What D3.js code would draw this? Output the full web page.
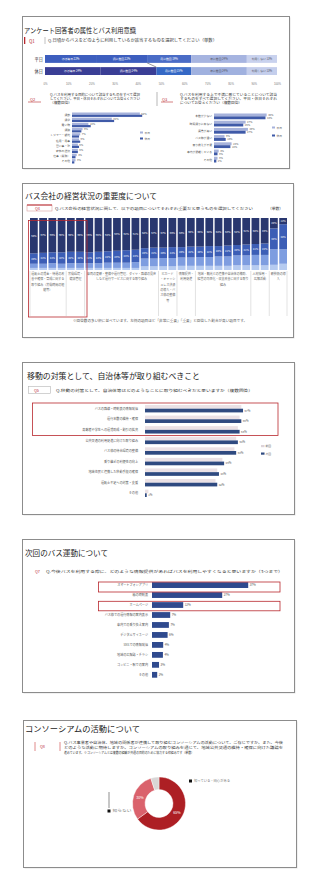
<!DOCTYPE html>
<html><head><meta charset="utf-8">
<script src="https://cdn.jsdelivr.net/npm/d3@7"></script>
<style>html,body{margin:0;padding:0;background:#fff;}svg{display:block;font-family:"Noto Sans CJK JP","Noto Sans",sans-serif;}</style>
</head><body><svg id="c" width="320" height="891"></svg>
<script>
// ---------- DATA ----------
const p1Rows = ["平日", "休日"];
const p1Cats = ["ほぼ毎日", "週に数回", "月に数回", "年に数回", "利用しない"];
const p1Weekday = [22, 22, 19, 24, 13];
const p1Holiday = [24, 24, 15, 24, 13];
const p1Ticks = [0, 10, 20, 30, 40, 50, 60, 70, 80, 90, 100];

const p1LeftCats = ["通勤", "通学", "買い物", "通院", "レジャー・観光", "私用・用事", "習い事・塾", "家族の送迎", "仕事（業務）", "その他"];
const p1LeftA = [58, 34, 14, 9, 7, 6, 5, 5, 4, 3];
const p1LeftB = [60, 36, 16, 8, 6, 7, 6, 5, 3, 2];

const p1RightCats = ["本数が少ない", "時間通りに来ない", "運賃が高い", "バス停が遠い", "乗り換えが不便", "車内が混雑している", "その他"];
const p1RightA = [45, 27, 29, 9, 15, 4, 3];
const p1RightB = [44, 25, 27, 10, 14, 3, 2];

const p2Cols = ["運転士の賃金", "運転士の確保", "運転士の育成", "労働環境", "健康管理", "安全教育", "車両の更新", "車両の整備", "運行管理", "ダイヤの見直し", "路線の再編", "運賃の改定", "ICカード導入", "キャッシュレス", "バス停整備", "情報提供", "利用促進", "地域連携", "観光連携", "自治体補助", "経営の効率化", "収支改善", "人材採用", "広報活動", "環境対策", "EVバス導入", "自動運転", "MaaS"];
const p2Keys = ["重要でない", "あまり重要でない", "重要", "非常に重要"];
const p2VeryImportant = [68, 67, 66, 66, 65, 65, 66, 65, 64, 63, 62, 61, 58, 57, 57, 56, 56, 55, 55, 54, 54, 53, 52, 51, 50, 49, 20, 12];
const p2Important = [20, 21, 21, 22, 22, 22, 21, 22, 22, 23, 24, 24, 20, 21, 20, 21, 20, 21, 20, 21, 20, 21, 20, 21, 21, 22, 40, 48];
const p2Less = [8, 8, 9, 8, 9, 9, 9, 9, 10, 10, 10, 11, 15, 15, 16, 16, 16, 16, 17, 17, 18, 18, 19, 19, 20, 20, 30, 28];
const p2Not = [4, 4, 4, 4, 4, 4, 4, 4, 4, 4, 4, 4, 7, 7, 7, 7, 8, 8, 8, 8, 8, 8, 9, 9, 9, 9, 10, 12];
const p2Groups = [
  ["運転士の賃金・待遇の改善や確保・育成に関する取り組み（労働時間の短縮等）", 0, 4],
  ["労働環境・健康管理", 4, 6],
  ["車両の更新・整備や運行管理、ダイヤ・路線の見直しなど運行サービスに関する取り組み", 6, 14],
  ["ICカード・キャッシュレス決済の導入・バス停の整備等", 14, 16],
  ["情報提供・利用促進", 16, 18],
  ["地域・観光との連携や自治体の補助、経営の効率化・収支改善に関する取り組み", 18, 24],
  ["人材採用・広報活動", 24, 26],
  ["新技術の導入", 26, 28]
];

const p3Cats = ["バスの路線・時刻表の情報発信", "運行本数の維持・確保", "高齢者や学生への運賃助成・割引の拡充", "公共交通の利用促進に向けた取り組み", "バス停の待合環境の整備", "乗り継ぎの利便性の向上", "地域住民と連携した移動手段の確保", "運転士不足への対策・支援", "その他"];
const p3Prev = [56, 55, 54, 53, 52, 45, 42, 41, 2];
const p3Curr = [57, 56, 55, 54, 53, 46, 43, 42, 1];
const p3Series = ["前回", "今回"];

const p4Cats = ["スマートフォンアプリ", "紙の時刻表", "ホームページ", "バス停での運行情報の案内表示", "車内での乗り換え案内", "デジタルサイネージ", "SNSでの情報発信", "地域の広報誌・チラシ", "コンビニ・駅での案内", "その他"];
const p4Values = [37, 27, 12, 7, 6.5, 6, 4.3, 4.2, 2.7, 2];

const p5Cats = ["知っている", "知らない", "無回答"];
const p5Values = [65, 30, 5];

// ---------- HELPERS ----------
const svg = d3.select("#c");
function T(x, y, s, o = {}) {
  const t = svg.append("text").attr("x", x).attr("y", y).text(s)
    .attr("font-size", o.size || 4).attr("fill", o.fill || "#333")
    .attr("text-anchor", o.anchor || "start");
  if (o.len) t.attr("textLength", o.len).attr("lengthAdjust", "spacingAndGlyphs");
  if (o.weight) t.attr("font-weight", o.weight);
  return t;
}
function panel(x, y, w, h) {
  svg.append("rect").attr("x", x + 1).attr("y", y + 1).attr("width", w).attr("height", h).attr("fill", "#e4e4e4");
  svg.append("rect").attr("x", x).attr("y", y).attr("width", w).attr("height", h)
    .attr("fill", "#fff").attr("stroke", "#8c8c8c").attr("stroke-width", 1);
}
function line(x1, y1, x2, y2, c, w) {
  svg.append("line").attr("x1", x1).attr("y1", y1).attr("x2", x2).attr("y2", y2).attr("stroke", c).attr("stroke-width", w || 0.6);
}
function box(x, y, w, h, c, sw) {
  svg.append("rect").attr("x", x).attr("y", y).attr("width", w).attr("height", h)
    .attr("fill", "none").attr("stroke", c).attr("stroke-width", sw || 0.8);
}
function groupedBars(cats, series, colors, cfg) {
  const y = d3.scaleBand().domain(cats).range([cfg.y0, cfg.y1]).paddingInner(cfg.pad);
  const x = d3.scaleLinear().domain([0, 100]).range([cfg.x0, cfg.x0 + cfg.ppp * 100]);
  const sub = d3.scaleBand().domain(d3.range(series.length)).range([0, y.bandwidth()]).paddingInner(cfg.subPad || 0);
  cats.forEach((c, i) => {
    series.forEach((vals, s) => {
      svg.append("rect").attr("x", x(0)).attr("y", y(c) + sub(s))
        .attr("width", x(vals[i]) - x(0)).attr("height", sub.bandwidth()).attr("fill", colors[s]);
      if (cfg.values && (cfg.valueSeries === undefined || cfg.valueSeries === s)) {
        T(x(vals[i]) + 1.5, y(c) + sub(s) + sub.bandwidth() / 2 + cfg.vSize * 0.36, Math.round(vals[i]) + "%", { size: cfg.vSize, fill: "#555" });
      }
    });
    T(cfg.labelX, y(c) + y.bandwidth() / 2 + cfg.lSize * 0.36, c, { size: cfg.lSize, anchor: "end", fill: "#555" });
  });
  return { x, y };
}
const RED = "#b8282e";

// ---------- PANEL 1 ----------
panel(22.5, 16.5, 267, 152);
T(24, 33, "アンケート回答者の属性とバス利用意識", { size: 7, len: 112, fill: "#1a1a1a" });
svg.append("rect").attr("x", 24).attr("y", 37).attr("width", 1.3).attr("height", 7).attr("fill", RED);
T(29, 42.5, "Q1", { size: 4.5, fill: RED });
line(45, 37, 45, 44, "#999", 0.6);
T(48, 42.3, "Q.日頃からバスをどのように利用しているか該当するものを選択してください（単数）", { size: 4, len: 169, fill: "#333" });

{
  const x = d3.scaleLinear().domain([0, 100]).range([45, 277]);
  const y = d3.scaleBand().domain(p1Rows).range([55, 75]).paddingInner(0.35);
  const data = [p1Weekday, p1Holiday];
  const pal = [["#3d5ebe", "#3d5ebe", "#4a6cc6", "#a6b4e0", "#c9d2ee"], ["#3a3e95", "#3a3e95", "#3568c5", "#a0b1df", "#c4ceec"]];
  const ends = [];
  p1Rows.forEach((r, ri) => {
    const stack = d3.stack().keys(p1Cats.map((c, i) => i))([Object.assign({}, data[ri])])
    stack.forEach((layer, k) => {
      const v0 = layer[0][0], v1 = layer[0][1];
      svg.append("rect").attr("x", x(v0)).attr("y", y(r)).attr("width", x(v1) - x(v0)).attr("height", y.bandwidth()).attr("fill", pal[ri][k]);
      T((x(v0) + x(v1)) / 2, y(r) + y.bandwidth() / 2 + 0.6, p1Cats[k] + " " + data[ri][k] + "%", { size: 2.8, anchor: "middle", fill: k < 3 ? "#fff" : "#556" });
      if (k === 1) ends.push(x(v1));
    });
    T(43, y(r) + y.bandwidth() / 2 + 1.6, r, { size: 4.2, anchor: "end", fill: "#333" });
  });
  line(ends[0], y(p1Rows[0]) + y.bandwidth(), ends[1], y(p1Rows[1]), "#555", 0.6);
  const ax = svg.append("g").attr("transform", "translate(0,80)")
    .call(d3.axisBottom(x).tickValues(p1Ticks).tickFormat(d => d + "%").tickSize(0));
  ax.select(".domain").remove();
  ax.selectAll("text").attr("font-size", 2.8).attr("fill", "#777").attr("font-family", "inherit");
}

// sub-panels
T(30, 100.5, "Q2", { size: 4, fill: RED });
line(28, 102, 41, 102, RED, 0.6);
T(50, 96, "Q.バスを利用する目的について該当するものをすべて選択", { size: 3.2, len: 90, fill: "#333" });
T(50, 100, "してください。平日・休日それぞれについてお答えください", { size: 3.2, len: 90, fill: "#333" });
T(50, 104, "（複数回答）", { size: 3.2, len: 22, fill: "#333" });
line(157, 92, 157, 106, "#888", 0.6);
T(162, 100.5, "Q3", { size: 4, fill: RED });
line(161, 102, 173, 102, RED, 0.6);
T(180, 96, "Q.バスを利用する上で不満に感じていることについて該当", { size: 3.2, len: 97, fill: "#333" });
T(180, 100, "するものをすべて選択してください。平日・休日それぞれ", { size: 3.2, len: 97, fill: "#333" });
T(180, 104, "についてお答えください（複数回答）", { size: 3.2, len: 62, fill: "#333" });

groupedBars(p1LeftCats, [p1LeftA, p1LeftB], ["#a6b2db", "#3f5aa8"],
  { y0: 112.5, y1: 163.5, pad: 0.15, x0: 72, ppp: 1.17, labelX: 70, lSize: 2.8, values: true, vSize: 2.6, valueSeries: 0 });
svg.append("rect").attr("x", 140).attr("y", 131.5).attr("width", 3).attr("height", 2).attr("fill", "#a6b2db");
T(144.5, 133.6, p1Rows[0], { size: 2.8, fill: "#666" });
svg.append("rect").attr("x", 140).attr("y", 137.5).attr("width", 3).attr("height", 2).attr("fill", "#3f5aa8");
T(144.5, 139.6, p1Rows[1], { size: 2.8, fill: "#666" });

groupedBars(p1RightCats, [p1RightA, p1RightB], ["#a6b2db", "#3f5aa8"],
  { y0: 113.5, y1: 162.5, pad: 0.2, x0: 214, ppp: 1.17, labelX: 212, lSize: 2.8, values: true, vSize: 2.6 });
svg.append("rect").attr("x", 272).attr("y", 126.5).attr("width", 3).attr("height", 2).attr("fill", "#a6b2db");
T(276.5, 128.6, p1Rows[0], { size: 2.8, fill: "#666" });
svg.append("rect").attr("x", 272).attr("y", 134.5).attr("width", 3).attr("height", 2).attr("fill", "#3f5aa8");
T(276.5, 136.6, p1Rows[1], { size: 2.8, fill: "#666" });

// ---------- PANEL 2 ----------
panel(22.5, 183.5, 271, 154);
T(25, 198.5, "バス会社の経営状況の重要度について", { size: 7.5, len: 132, fill: "#1a1a1a" });
box(27, 205, 25, 6, "#d9a0a0", 0.6);
line(27, 205, 52, 205, RED, 1);
T(35, 209.8, "Q4", { size: 3.8, fill: RED });
T(55, 210, "Q.バス会社の経営状況に関して、以下の項目についてそれぞれ重要だと思うものを選択してください", { size: 3.6, len: 198, fill: "#333" });
T(268, 210, "（単数）", { size: 3.6, len: 15, fill: "#333" });
{
  const x = d3.scaleBand().domain(p2Cols).range([30, 287]).paddingInner(0.16);
  const y = d3.scaleLinear().domain([0, 100]).range([270, 218]);
  const rows = p2Cols.map((c, i) => ({ col: c, "重要でない": p2Not[i], "あまり重要でない": p2Less[i], "重要": p2Important[i], "非常に重要": p2VeryImportant[i] }));
  const stack = d3.stack().keys(p2Keys)(rows);
  const colors = { "重要でない": "#b6cbf0", "あまり重要でない": "#7e9de0", "重要": "#3c5eb6", "非常に重要": "#29376f" };
  stack.forEach(layer => {
    layer.forEach(d => {
      svg.append("rect").attr("x", x(d.data.col)).attr("y", y(d[1])).attr("width", x.bandwidth())
        .attr("height", y(d[0]) - y(d[1])).attr("fill", colors[layer.key]);
      if (layer.key === "非常に重要" || layer.key === "重要") {
        T(x(d.data.col) + x.bandwidth() / 2, (y(d[0]) + y(d[1])) / 2 + 1, d.data[layer.key] + "%", { size: 2.6, anchor: "middle", fill: "#fff" });
      }
    });
  });
  // group labels
  const step = x.step();
  p2Groups.forEach(([label, a, b], gi) => {
    const gx0 = x(p2Cols[a]) - (step - x.bandwidth()) / 2;
    const gx1 = b < p2Cols.length ? x(p2Cols[b]) - (step - x.bandwidth()) / 2 : 287;
    if (gi > 0) line(gx0, 271, gx0, 316, "#c4c4c4", 0.5);
    const per = Math.max(3, Math.floor((gx1 - gx0 - 1) / 3.1));
    const chars = Array.from(label);
    for (let i = 0, ln = 0; i < chars.length; i += per, ln++) {
      T((gx0 + gx1) / 2, 275 + ln * 5.3, chars.slice(i, i + per).join(""), { size: 3, anchor: "middle", fill: "#666" });
    }
  });
  line(287, 271, 287, 316, "#c4c4c4", 0.5);
  line(30, 271, 30, 316, "#c4c4c4", 0.5);
}
box(28.5, 220.5, 58.5, 96.5, RED, 0.8);
T(160, 321.5, "※回答数の多い順に並べています。左側の項目ほど「非常に重要」「重要」と回答した割合が高い項目です。", { size: 3.2, anchor: "middle", len: 174, fill: "#555" });

// ---------- PANEL 3 ----------
panel(22.5, 362.5, 272, 152);
T(27, 378.5, "移動の対策として、自治体等が取り組むべきこと", { size: 7.8, len: 173, fill: "#1a1a1a" });
box(28.5, 386.5, 22, 7, "#b5b5b5", 0.6);
T(34, 391.8, "Q5", { size: 3.8, fill: RED });
T(56, 391.8, "Q.移動の対策として、自治体等はどのようなことに取り組むべきだと思いますか（複数回答）", { size: 3.8, len: 197, fill: "#333" });
groupedBars(p3Cats, [p3Prev, p3Curr], ["#ebe1e5", "#2f4a80"],
  { y0: 405, y1: 497, pad: 0.3, x0: 145, ppp: 1.72, labelX: 138, lSize: 3.1, values: true, vSize: 2.8, valueSeries: 1, subPad: 0 });
box(32.5, 403, 245.5, 32.5, RED, 0.8);
svg.append("rect").attr("x", 261).attr("y", 445).attr("width", 3.5).attr("height", 2.2).attr("fill", "#ddd3d8");
T(265.5, 447.3, p3Series[0], { size: 2.8, fill: "#666" });
svg.append("rect").attr("x", 261).attr("y", 452.5).attr("width", 3.5).attr("height", 2.2).attr("fill", "#2f4a80");
T(265.5, 454.8, p3Series[1], { size: 2.8, fill: "#666" });

// ---------- PANEL 4 ----------
panel(22.5, 539.5, 272, 153);
T(25, 556, "次回のバス運動について", { size: 7.5, len: 83, fill: "#1a1a1a" });
T(35, 573, "Q7", { size: 3.8, fill: RED });
T(46, 573, "Q.今後バスを利用する際に、どのような情報提供があればバスを利用しやすくなると思いますか（3つまで）", { size: 3.6, len: 237, fill: "#333" });
groupedBars(p4Cats, [p4Values], ["#2f4a8e"],
  { y0: 582.2, y1: 677.7, pad: 0.42, x0: 152, ppp: 2.6, labelX: 148, lSize: 3.1, values: true, vSize: 3 });
box(98.5, 582, 181.5, 10, RED, 0.8);
box(98.5, 601.3, 181.5, 9.5, RED, 0.8);

// ---------- PANEL 5 ----------
panel(23.5, 720.5, 273, 147);
T(25, 732, "コンソーシアムの活動について", { size: 8, len: 115, fill: "#1a1a1a" });
line(35, 742, 35, 751, "#e08a8a", 1);
T(40, 748.3, "Q8", { size: 3.8, fill: RED });
line(60, 742, 60, 751, "#e08a8a", 1);
T(64, 743.5, "Q.バス事業者や自治体、地域の関係者が連携して取り組むコンソーシアムの活動について、ご存じですか。また、今後", { size: 3.2, len: 219, fill: "#333" });
T(64, 748.5, "どのような活動に期待しますか。コンソーシアムの取り組みを通じて、地域公共交通の維持・確保に向けた議論を", { size: 3.2, len: 219, fill: "#333" });
T(64, 753.5, "進めています。※コンソーシアムとは複数の組織が共通の目的のために協力する枠組みです（単数）", { size: 3.2, len: 130, fill: "#333" });
{
  const cx = 159, cy = 803.5;
  const pie = d3.pie().sort(null).value(d => d)(p5Values);
  const arc = d3.arc().innerRadius(14).outerRadius(26.5);
  const col = ["#ad1f24", "#da626c", "#d9d6d6"];
  const g = svg.append("g").attr("transform", `translate(${cx},${cy})`);
  g.selectAll("path").data(pie).join("path").attr("d", arc).attr("fill", (d, i) => col[i]).attr("stroke", "#fff").attr("stroke-width", 0.4);
  pie.forEach((d, i) => {
    if (i < 2) {
      const c = d3.arc().innerRadius(20).outerRadius(20).centroid(d);
      g.append("text").attr("x", c[0]).attr("y", c[1] + 1.2).attr("text-anchor", "middle").attr("font-size", 3.6).attr("fill", "#fff").text(p5Values[i] + "%");
    }
  });
  svg.append("rect").attr("x", 189).attr("y", 779.5).attr("width", 3).attr("height", 3).attr("fill", "#111");
  T(194, 782.3, p5Cats[0] + "・関心がある", { size: 3, len: 36, fill: "#777" });
  line(109, 792, 109, 808, "#444", 0.6);
  svg.append("rect").attr("x", 107.5).attr("y", 809.5).attr("width", 3).attr("height", 3).attr("fill", "#111");
  T(112.5, 812.3, p5Cats[1], { size: 3, len: 19, fill: "#777" });
}
</script></body></html>
